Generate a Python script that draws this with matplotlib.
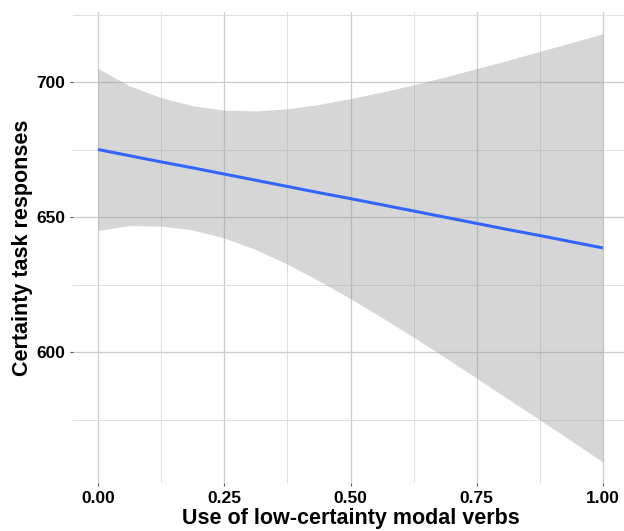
import matplotlib
matplotlib.use("Agg")
import matplotlib.pyplot as plt
from matplotlib.ticker import MultipleLocator

# values
x_vals = [0.0, 0.0625, 0.125, 0.1875, 0.25, 0.3125, 0.375, 0.4375, 0.5,
          0.5625, 0.625, 0.6875, 0.75, 0.8125, 0.875, 0.9375, 1.0]
fit_line = [675.1, 672.8, 670.5, 668.3, 666.0, 663.7, 661.4, 659.1, 656.9,
            654.6, 652.3, 650.0, 647.7, 645.4, 643.2, 640.9, 638.6]
ci_upper = [705.1, 698.7, 694.3, 691.3, 689.7, 689.4, 690.2, 691.8, 694.0,
            696.4, 699.1, 702.0, 705.1, 708.2, 711.5, 714.7, 718.0]
ci_lower = [645.1, 646.9, 646.7, 645.3, 642.3, 638.0, 632.6, 626.4, 619.8,
            612.8, 605.5, 598.0, 590.3, 582.6, 574.9, 567.1, 559.2]

x_ticks = [0.0, 0.25, 0.5, 0.75, 1.0]
x_tick_labels = ["0.00", "0.25", "0.50", "0.75", "1.00"]
y_ticks = [600, 650, 700]
y_tick_labels = ["600", "650", "700"]

plt.rcParams["font.family"] = ["Liberation Sans", "DejaVu Sans"]

fig = plt.figure(figsize=(6.24, 5.31), dpi=100)
ax = fig.add_axes([0.1167, 0.0895, 0.89, 0.887])

ax.fill_between(x_vals, ci_lower, ci_upper, color="#999999", alpha=0.4,
                linewidth=0, zorder=2)
ax.plot(x_vals, fit_line, color="#3366FF", linewidth=2.2, zorder=3,
        solid_capstyle="butt")

ax.set_xlim(-0.05, 1.05)
ax.set_ylim(551.3, 725.9)
ax.set_xticks(x_ticks)
ax.set_xticklabels(x_tick_labels)
ax.set_yticks(y_ticks)
ax.set_yticklabels(y_tick_labels)
ax.xaxis.set_minor_locator(MultipleLocator(0.125))
ax.yaxis.set_minor_locator(MultipleLocator(25))

ax.grid(True, which="major", color="#cccccc", linewidth=0.9, zorder=1)
ax.grid(True, which="minor", color="#dedede", linewidth=0.7, zorder=1)
ax.set_axisbelow(True)

for s in ax.spines.values():
    s.set_visible(False)

ax.tick_params(which="major", length=2.5, width=0.8, color="#555555",
               labelsize=12.5, labelcolor="black", pad=3)
ax.tick_params(which="minor", length=0)
for lab in ax.get_xticklabels() + ax.get_yticklabels():
    lab.set_fontweight("bold")

ax.set_xlabel("Use of low-certainty modal verbs", fontsize=15.5,
              fontweight="bold", labelpad=1)
ax.set_ylabel("Certainty task responses", fontsize=15.5,
              fontweight="bold", labelpad=2)

fig.savefig("out.png", dpi=100)
